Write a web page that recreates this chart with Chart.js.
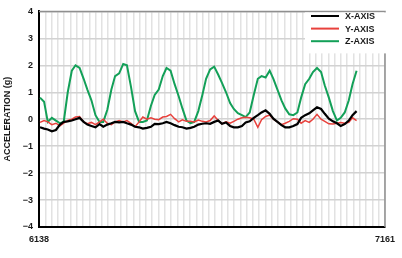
<!DOCTYPE html>
<html>
<head>
<meta charset="utf-8">
<script src="https://cdn.jsdelivr.net/npm/chart.js@4.4.1/dist/chart.umd.min.js"></script>
<style>
  html, body { margin: 0; padding: 0; background: #fff; }
</style>
</head>
<body>
<canvas id="accel" width="402" height="258"></canvas>
<script>
// sample positions along the record
const sampleX = [6141, 6153, 6164, 6176, 6188, 6200, 6211, 6223, 6235, 6246, 6258, 6270, 6281, 6293, 6305, 6317, 6328, 6340, 6352, 6363, 6375,
  6387, 6398, 6410, 6422, 6434, 6445, 6457, 6469, 6480, 6492, 6504, 6515, 6527, 6539, 6551, 6562, 6574, 6586, 6597, 6609,
  6621, 6632, 6644, 6656, 6668, 6679, 6691, 6703, 6714, 6726, 6738, 6749, 6761, 6773, 6785, 6796, 6808, 6820, 6831, 6843,
  6855, 6866, 6878, 6890, 6902, 6913, 6925, 6937, 6948, 6960, 6972, 6983, 6995, 7007, 7019, 7030, 7042, 7054, 7065, 7077];

const xAxisG = [-0.3, -0.35, -0.38, -0.45, -0.4, -0.2, -0.1, -0.08, -0.05, 0.0, 0.05, -0.1, -0.2, -0.25, -0.3, -0.18, -0.28, -0.2, -0.15, -0.1, -0.12, -0.1,
  -0.15, -0.2, -0.28, -0.3, -0.35, -0.32, -0.28, -0.17, -0.18, -0.15, -0.1, -0.15, -0.22, -0.28, -0.3, -0.35, -0.32, -0.28, -0.2, -0.17, -0.15, -0.17,
  -0.1, -0.05, -0.17, -0.12, -0.25, -0.3, -0.3, -0.25, -0.12, -0.08, 0.05, 0.15, 0.25, 0.33, 0.2, 0.02, -0.1, -0.22, -0.3, -0.3, -0.25, -0.18,
  0.05, 0.15, 0.22, 0.33, 0.44, 0.38, 0.2, 0.02, -0.08, -0.15, -0.25, -0.18, -0.05, 0.15, 0.3];

const yAxisG = [-0.12, -0.05, -0.1, -0.2, -0.15, -0.25, -0.15, -0.05, 0.0, 0.08, 0.1, -0.1, -0.17, -0.12, -0.2, -0.1, 0.0, -0.15, -0.2, -0.1, -0.05, -0.1,
  -0.05, -0.15, -0.28, -0.1, 0.08, 0.0, 0.05, 0.0, -0.02, 0.08, 0.1, 0.18, 0.02, -0.1, -0.02, -0.08, -0.08, -0.1, -0.03, -0.08, -0.1, -0.05,
  0.12, -0.05, -0.17, -0.1, -0.15, -0.08, 0.0, 0.05, 0.07, 0.05, 0.0, -0.3, -0.02, 0.1, 0.15, 0.0, -0.1, -0.2, -0.15, -0.08, 0.02, 0.0,
  -0.15, -0.05, -0.12, 0.0, 0.18, 0.0, -0.08, -0.17, -0.18, -0.15, -0.12, -0.15, -0.12, 0.05, -0.05];

const zAxisG = [0.8, 0.65, -0.1, 0.05, -0.05, -0.15, -0.1, 1.0, 1.8, 2.0, 1.9, 1.5, 1.1, 0.7, 0.15, -0.1, -0.1, 0.35, 1.1, 1.6, 1.7, 2.05,
  2.0, 1.2, 0.3, -0.1, -0.1, -0.05, 0.5, 0.9, 1.1, 1.6, 1.9, 1.8, 1.3, 0.85, 0.4, -0.05, -0.15, -0.1, 0.3, 0.9, 1.5, 1.85,
  1.95, 1.65, 1.35, 1.0, 0.6, 0.38, 0.22, 0.15, 0.08, 0.25, 0.9, 1.5, 1.6, 1.55, 1.8, 1.5, 1.1, 0.7, 0.4, 0.18, 0.15, 0.25,
  0.8, 1.3, 1.5, 1.75, 1.9, 1.75, 1.25, 0.8, 0.3, -0.05, 0.05, 0.25, 0.7, 1.3, 1.8];

const seriesNames = ['X-AXIS', 'Y-AXIS', 'Z-AXIS'];
const xTickLabels = [6138, 7161];
const yMin = -4, yMax = 4;

const boldFont = { family: '"Liberation Sans", Arial, sans-serif', size: 9, weight: 'bold' };

function pts(arr) {
  return sampleX.map((x, i) => ({ x: x, y: arr[i] }));
}

// top/right frame and the boxed key in the corner
const frameAndKey = {
  id: 'frameAndKey',
  beforeDatasetsDraw(chart) {
    const { ctx, chartArea: a } = chart;
    ctx.save();
    ctx.strokeStyle = '#8f8f8f';
    ctx.lineWidth = 1.5;
    ctx.beginPath();
    ctx.moveTo(a.left, a.top);
    ctx.lineTo(a.right, a.top);
    ctx.lineTo(a.right, a.bottom);
    ctx.stroke();
    ctx.restore();
  },
  afterDatasetsDraw(chart) {
    const { ctx, chartArea: a } = chart;
    ctx.save();
    ctx.fillStyle = '#fff';
    ctx.fillRect(305, a.top + 1, 82, 41);
    ctx.font = 'bold 9px "Liberation Sans", Arial, sans-serif';
    ctx.textBaseline = 'middle';
    chart.data.datasets.forEach((ds, i) => {
      const y = 16 + i * 12.6;
      ctx.strokeStyle = ds.borderColor;
      ctx.lineWidth = 2;
      ctx.beginPath();
      ctx.moveTo(311, y);
      ctx.lineTo(339, y);
      ctx.stroke();
      ctx.fillStyle = '#1a1a1a';
      ctx.fillText(ds.label, 345, y + 0.5);
    });
    ctx.restore();
  }
};

new Chart(document.getElementById('accel'), {
  type: 'line',
  data: {
    datasets: [{
      label: seriesNames[0],
      data: pts(xAxisG),
      borderColor: '#000000',
      borderWidth: 2.2
    },
    {
      label: seriesNames[1],
      data: pts(yAxisG),
      borderColor: '#e8413c',
      borderWidth: 1.5
    },
    {
      label: seriesNames[2],
      data: pts(zAxisG),
      borderColor: '#13a058',
      borderWidth: 2
    }]
  },
  options: {
    responsive: false,
    animation: false,
    layout: { padding: { top: 1.6, right: 13, left: 0, bottom: 0 } },
    elements: { point: { radius: 0 }, line: { tension: 0 } },
    plugins: { legend: { display: false }, tooltip: { enabled: false } },
    scales: {
      x: {
        type: 'linear',
        min: xTickLabels[0],
        max: xTickLabels[1],
        afterBuildTicks: (scale) => {
          const n = 55, step = (xTickLabels[1] - xTickLabels[0]) / n;
          const t = [];
          for (let i = 0; i <= n; i++) t.push({ value: xTickLabels[0] + i * step });
          scale.ticks = t;
        },
        afterFit: (scale) => { scale.height = 31; },
        ticks: {
          autoSkip: false,
          maxRotation: 0,
          padding: 7,
          color: '#1a1a1a',
          font: boldFont,
          callback: (v) => (Math.abs(v - xTickLabels[0]) < 0.01 || Math.abs(v - xTickLabels[1]) < 0.01) ? String(Math.round(v)) : ''
        },
        grid: { color: '#e2e2e2', lineWidth: 1.5, drawTicks: false },
        border: { color: '#000', width: 2 }
      },
      y: {
        min: yMin,
        max: yMax,
        afterFit: (scale) => { scale.width = 39; },
        ticks: {
          stepSize: 1,
          padding: 6,
          color: '#1a1a1a',
          font: boldFont,
          callback: (v) => v < 0 ? '\u2212' + Math.abs(v) : String(v)
        },
        grid: { color: '#d2d2d2', lineWidth: 1.5, drawTicks: false },
        border: { color: '#000', width: 2 },
        title: {
          display: true,
          text: 'ACCELERATION (g)',
          color: '#1a1a1a',
          font: { family: '"Liberation Sans", Arial, sans-serif', size: 9, weight: 'bold' },
          padding: { top: 2, bottom: 0 }
        }
      }
    }
  },
  plugins: [frameAndKey]
});
</script>
</body>
</html>
